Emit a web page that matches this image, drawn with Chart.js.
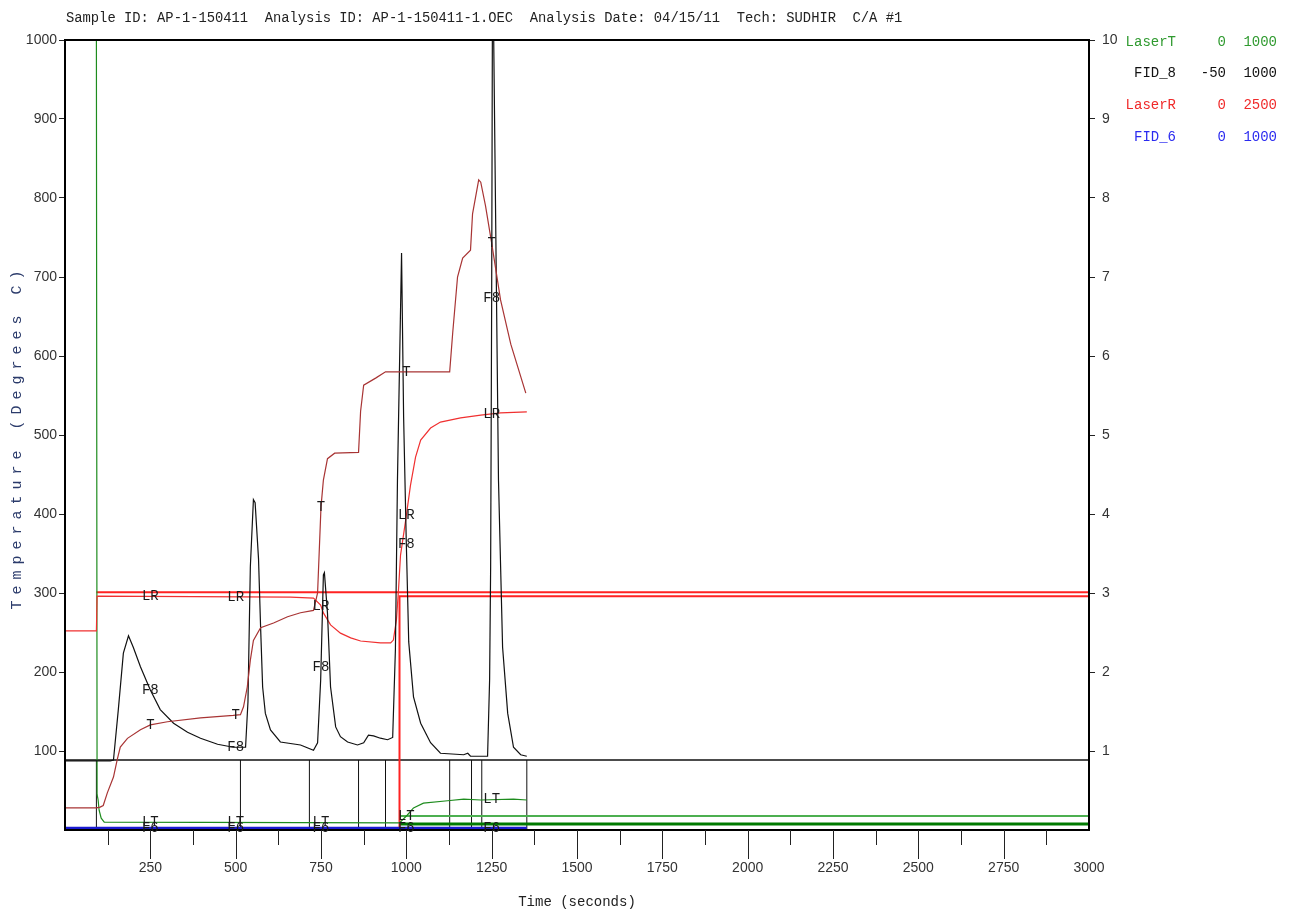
<!DOCTYPE html>
<html>
<head>
<meta charset="utf-8">
<script src="https://cdn.jsdelivr.net/npm/chart.js@4.4.0/dist/chart.umd.min.js"></script>
<style>
  html, body { margin: 0; padding: 0; background: #fff; }
</style>
</head>
<body>
<canvas id="termograma" width="1296" height="918"></canvas>
<script>
// Cabeçalho da análise
var titulo = "Sample ID: AP-1-150411  Analysis ID: AP-1-150411-1.OEC  Analysis Date: 04/15/11  Tech: SUDHIR  C/A #1";

// Temperatura (eixo esquerdo, graus C)
var tempoT = [0, 92, 103, 112, 124, 142, 153, 162, 183, 221, 250, 300, 397, 493, 514, 523, 534, 543, 552, 573, 611, 652, 690, 728, 740, 750, 757, 769, 790, 860, 866, 875, 910, 939, 1127, 1136, 1150, 1165, 1188, 1194, 1212, 1218, 1232, 1250, 1276, 1306, 1350];
var valorT = [28, 28, 29, 31, 47, 67, 89, 105, 116, 127, 133, 137, 142, 145, 146, 156, 181, 215, 240, 256, 262, 270, 275, 278, 300, 409, 443, 470, 477, 478, 530, 563, 572, 580, 580, 630, 700, 724, 734, 780, 823, 820, 790, 743, 671, 615, 553];

// FID_8 (-50 a 1000)
var tempoF8 = [0, 133, 142, 156, 171, 186, 200, 221, 250, 279, 318, 359, 397, 447, 493, 529, 536, 543, 552, 557, 567, 573, 579, 587, 602, 631, 690, 728, 740, 749, 757, 760, 769, 778, 793, 807, 828, 857, 875, 889, 904, 924, 945, 960, 968, 974, 986, 992, 1000, 1007, 1021, 1042, 1071, 1100, 1168, 1180, 1188, 1238, 1244, 1247, 1250, 1252, 1256, 1270, 1282, 1297, 1314, 1335, 1353];
var valorF8 = [42, 42, 43, 109, 185, 208, 193, 167, 136, 110, 92, 80, 72, 64, 60, 60, 120, 300, 389, 385, 310, 220, 140, 105, 83, 67, 63, 56, 66, 149, 289, 292, 238, 140, 87, 74, 67, 63, 66, 76, 75, 72, 70, 73, 190, 415, 717, 500, 330, 200, 127, 92, 66, 52, 50, 52, 48, 48, 150, 300, 657, 1000, 1000, 415, 193, 105, 60, 50, 48];

// LaserR (0 a 2500)
var tempoLR = [0, 92, 94, 661, 728, 749, 757, 778, 807, 837, 866, 924, 954, 962, 971, 977, 983, 998, 1012, 1027, 1042, 1071, 1100, 1159, 1218, 1276, 1353];
var valorLR = [630, 630, 740, 737, 734, 712, 687, 649, 623, 608, 598, 592, 592, 601, 665, 759, 870, 980, 1090, 1180, 1234, 1272, 1291, 1304, 1313, 1320, 1323];

// LaserT (0 a 1000)
var tempoLT = [0, 92, 94, 97, 100, 106, 115, 980, 1003, 1021, 1050, 1121, 1168, 1218, 1314, 1353];
var valorLT = [1000, 1000, 45, 38, 25, 15, 10, 9, 19, 28, 34, 37, 39, 38, 39, 38];

// FID_6 (0 a 1000)
var tempoF6 = [0, 1353];
var valorF6 = [2.5, 2.5];

// Linhas de referência e marcadores de etapa
var linhaBase = 88.6;
var marcadores = [92, 514, 716, 860, 939, 1127, 1191, 1221, 1353];
var refLaserR1 = 752;
var refLaserR2 = 740;
var refLaserT1 = 17.7;
var refLaserT2 = 7.6;

// Rótulos ao longo das curvas
var temposRotulo = [250, 500, 750, 1000, 1250];

// Legenda da direita: nome, mínimo, máximo, cor
var canais = ["LaserT", "FID_8", "LaserR", "FID_6"];
var minimos = ["0", "-50", "0", "0"];
var maximos = ["1000", "1000", "2500", "1000"];
var coresCanais = ["#2f9a2f", "#111111", "#f02a2a", "#2a2af0"];

function pares(xs, ys) {
    return xs.map(function (x, i) { return { x: x, y: ys[i] }; });
}

function interpolar(xs, ys, t) {
    for (var i = 1; i < xs.length; i++) {
        if (t <= xs[i]) {
            var k = (t - xs[i - 1]) / (xs[i] - xs[i - 1] || 1);
            return ys[i - 1] + k * (ys[i] - ys[i - 1]);
        }
    }
    return ys[ys.length - 1];
}

// Segmentos verticais dos marcadores (com quebras)
var dadosMarcadores = [];
marcadores.forEach(function (t) {
    dadosMarcadores.push({ x: t, y: 0 }, { x: t, y: linhaBase }, { x: t, y: null });
});

const fonteMono = "'Liberation Mono', 'DejaVu Sans Mono', monospace";
const fonteNum = "'Liberation Sans', Arial, sans-serif";

// Plugin com moldura, ticks do eixo x, rótulos, títulos e legenda
const extras = {
    id: "extras",
    afterDatasetsDraw: function (chart) {
        const ctx = chart.ctx;
        const a = chart.chartArea;
        const sx = chart.scales.x;
        ctx.save();

        // moldura
        ctx.strokeStyle = "#000";
        ctx.lineWidth = 2;
        ctx.strokeRect(a.left, a.top, a.right - a.left, a.bottom - a.top);

        // ticks do eixo x
        ctx.lineWidth = 1;
        ctx.strokeStyle = "#222";
        for (var v = 125; v < 3000; v += 125) {
            var px = Math.round(sx.getPixelForValue(v)) + 0.5;
            var len = (v % 250 === 0) ? 29 : 15;
            ctx.beginPath();
            ctx.moveTo(px, a.bottom);
            ctx.lineTo(px, a.bottom + len);
            ctx.stroke();
        }

        // rótulos nas curvas
        const series = [
            { txt: "LR", xs: tempoLR, ys: valorLR, eixo: "yLR" },
            { txt: "F8", xs: tempoF8, ys: valorF8, eixo: "yF8" },
            { txt: "T", xs: tempoT, ys: valorT, eixo: "y" },
            { txt: "LT", xs: tempoLT, ys: valorLT, eixo: "yLT" },
            { txt: "F6", xs: tempoF6, ys: valorF6, eixo: "yF6" }
        ];
        ctx.font = "14px " + fonteMono;
        ctx.fillStyle = "#1a1a1a";
        ctx.textAlign = "center";
        ctx.textBaseline = "middle";
        temposRotulo.forEach(function (t) {
            series.forEach(function (s) {
                var val = interpolar(s.xs, s.ys, t);
                ctx.fillText(s.txt, sx.getPixelForValue(t), chart.scales[s.eixo].getPixelForValue(val));
            });
        });

        // título superior
        ctx.textAlign = "left";
        ctx.fillStyle = "#222";
        ctx.font = "13.8px " + fonteMono;
        ctx.fillText(titulo, 66, 18);

        // título do eixo x
        ctx.textAlign = "center";
        ctx.font = "14px " + fonteMono;
        ctx.fillText("Time (seconds)", (a.left + a.right) / 2, 902);

        // título do eixo y (espaçado, rotacionado)
        ctx.save();
        ctx.translate(17, 440);
        ctx.rotate(-Math.PI / 2);
        ctx.fillStyle = "#2b3b6b";
        ctx.font = "15px " + fonteMono;
        var texto = "Temperature (Degrees C)";
        var passo = 15;
        var inicio = -passo * (texto.length - 1) / 2;
        for (var i = 0; i < texto.length; i++) {
            ctx.fillText(texto[i], inicio + i * passo, 0);
        }
        ctx.restore();

        // legenda dos canais
        ctx.font = "14px " + fonteMono;
        ctx.textAlign = "right";
        canais.forEach(function (nome, i) {
            var y = 42 + i * 31.7;
            ctx.fillStyle = coresCanais[i];
            ctx.fillText(nome, 1176, y);
            ctx.fillText(minimos[i], 1226, y);
            ctx.fillText(maximos[i], 1277, y);
        });

        ctx.restore();
    }
};

function linha(dados, eixo, cor, largura, ordem) {
    return {
        data: dados,
        yAxisID: eixo,
        borderColor: cor,
        borderWidth: largura,
        pointRadius: 0,
        tension: 0,
        fill: false,
        spanGaps: false,
        order: ordem
    };
}

const escalaOculta = function (min, max) {
    return { display: false, min: min, max: max };
};

// esconde o tick do zero nos eixos verticais
const corTick = function (c) {
    return (c.tick && c.tick.value === 0) ? "rgba(0,0,0,0)" : "#222";
};

new Chart(document.getElementById("termograma").getContext("2d"), {
    type: "line",
    data: {
        datasets: [
            linha(pares(tempoT, valorT), "y", "#a83434", 1.2, 1),
            linha(pares(tempoF8, valorF8), "yF8", "#111", 1.2, 2),
            linha(pares(tempoLR, valorLR), "yLR", "#f03030", 1.2, 3),
            linha(pares(tempoLT, valorLT), "yLT", "#1e8c1e", 1.2, 4),
            linha(pares(tempoF6, valorF6), "yF6", "#1a1ad0", 2.5, 5),
            linha([{ x: 92, y: refLaserR1 }, { x: 3000, y: refLaserR1 }], "yLR", "#f22", 2, 6),
            linha([{ x: 980, y: 0 }, { x: 980, y: refLaserR2 }, { x: 3000, y: refLaserR2 }], "yLR", "#f22", 2, 6),
            linha([{ x: 980, y: refLaserT1 }, { x: 3000, y: refLaserT1 }], "yLT", "#4caf50", 2, 7),
            linha([{ x: 980, y: refLaserT2 }, { x: 3000, y: refLaserT2 }], "yLT", "#007a00", 3, 7),
            linha([{ x: 0, y: linhaBase }, { x: 3000, y: linhaBase }], "y", "#111", 1.6, 8),
            linha(dadosMarcadores, "y", "#111", 1, 8)
        ]
    },
    options: {
        responsive: false,
        animation: false,
        devicePixelRatio: 1,
        layout: { padding: { top: 40, left: 0, right: 0, bottom: 0 } },
        plugins: { legend: { display: false }, tooltip: { enabled: false } },
        scales: {
            x: {
                type: "linear",
                min: 0,
                max: 3000,
                grid: { display: false, drawTicks: false },
                border: { display: false },
                ticks: {
                    stepSize: 125,
                    autoSkip: false,
                    maxRotation: 0,
                    padding: 30,
                    color: "#333",
                    font: { family: fonteNum, size: 14 },
                    callback: function (v) { return (v > 0 && v % 250 === 0) ? v : ""; }
                },
                afterFit: function (s) { s.height = 88; }
            },
            y: {
                position: "left",
                min: 0,
                max: 1000,
                grid: { drawOnChartArea: false, tickLength: 6, color: corTick },
                border: { display: false },
                ticks: {
                    stepSize: 100,
                    padding: 2,
                    color: "#333",
                    font: { family: fonteNum, size: 14 },
                    callback: function (v) { return v > 0 ? v : ""; }
                },
                afterFit: function (s) { s.width = 65; }
            },
            yR: {
                position: "right",
                min: 0,
                max: 10,
                grid: { drawOnChartArea: false, tickLength: 6, color: corTick },
                border: { display: false },
                ticks: {
                    stepSize: 1,
                    padding: 7,
                    color: "#333",
                    font: { family: fonteNum, size: 14 },
                    callback: function (v) { return v > 0 ? v : ""; }
                },
                afterFit: function (s) { s.width = 207; }
            },
            yF8: escalaOculta(-50, 1000),
            yLR: escalaOculta(0, 2500),
            yLT: escalaOculta(0, 1000),
            yF6: escalaOculta(0, 1000)
        }
    },
    plugins: [extras]
});
</script>
</body>
</html>
